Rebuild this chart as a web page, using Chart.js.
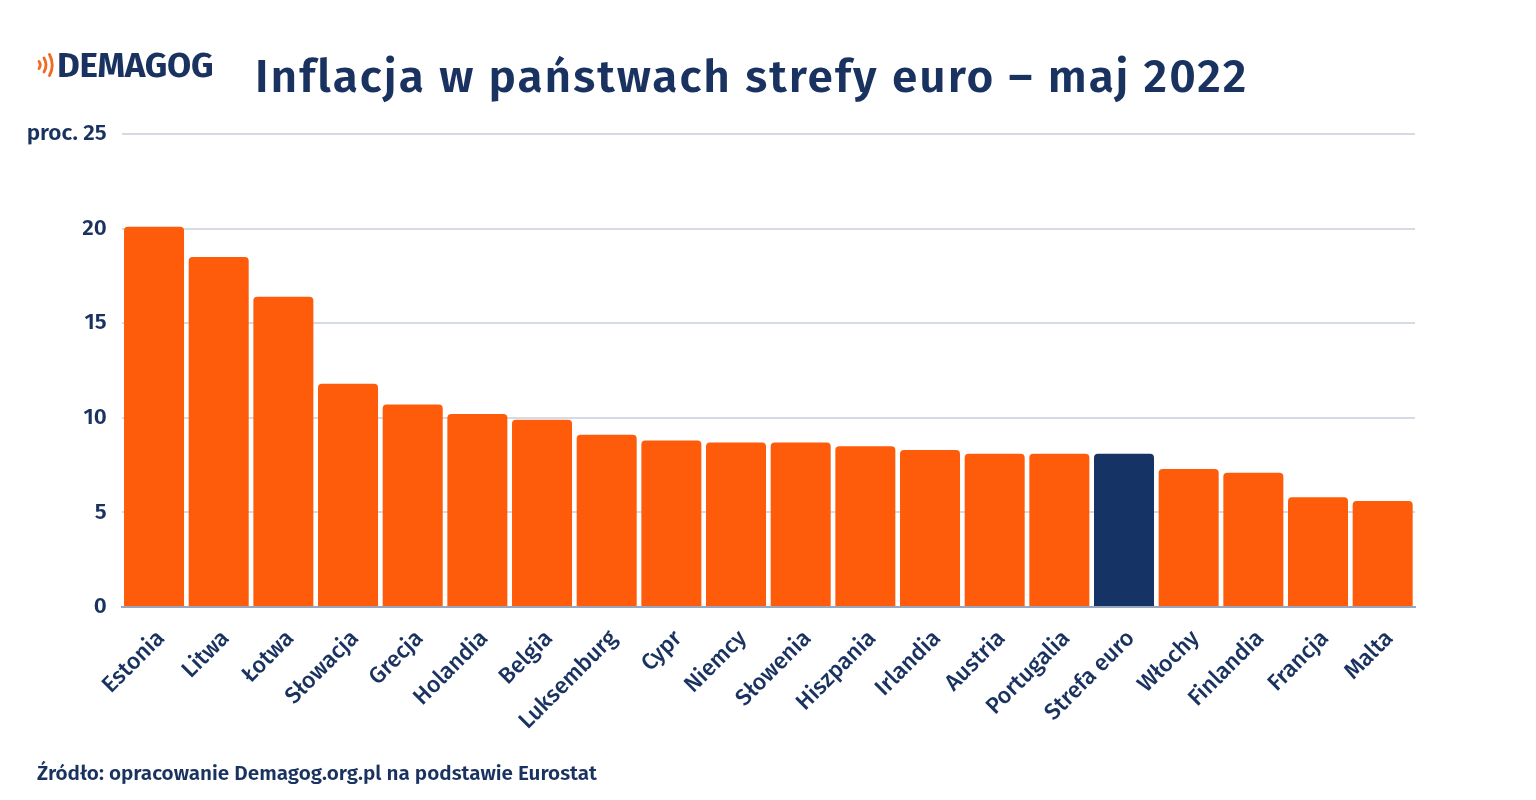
<!DOCTYPE html>
<html lang="pl">
<head>
<meta charset="utf-8">
<title>Inflacja w państwach strefy euro – maj 2022</title>
<script src="https://cdn.jsdelivr.net/npm/chart.js@4"></script>
<style>
  html, body { margin: 0; padding: 0; background: #fff; }
  body { width: 1536px; height: 800px; position: relative; overflow: hidden;
         font-family: "Fira Sans", "Open Sans", "Noto Sans", sans-serif; color: #19325f; }
  #wrap { position: absolute; left: 0; top: 0; width: 1536px; height: 800px; }
  .logo { position: absolute; left: 36px; top: 44px; display: flex; align-items: center; }
  .logo span { font-weight: 700; font-size: 35px; letter-spacing: -0.3px; color: #19325f; margin-left: 1px; }
  .title { position: absolute; left: 255px; top: 49px; font-size: 46px; font-weight: 600;
           letter-spacing: 2px; color: #19325f; white-space: nowrap; }
  .source { position: absolute; left: 37px; top: 761px; font-size: 20.7px; font-weight: 600;
            color: #19325f; white-space: nowrap; }
</style>
</head>
<body>
<div id="wrap"><canvas id="chart"></canvas></div>
<div class="logo">
  <svg width="20" height="26" viewBox="0 0 20 26">
    <g fill="none" stroke="#f26a21" stroke-width="2.8" stroke-linecap="round">
      <path d="M3 9.5 Q5.5 13 3 16.5"/>
      <path d="M8 6 Q12 13 8 20"/>
      <path d="M13.5 2.5 Q19 13 13.5 23.5"/>
    </g>
  </svg>
  <span>DEMAGOG</span>
</div>
<div class="title">Inflacja w państwach strefy euro – maj 2022</div>
<div class="source">Źródło: opracowanie Demagog.org.pl na podstawie Eurostat</div>
<script>
// kraje i inflacja HICP, maj 2022 (proc.)
const countries = ['Estonia', 'Litwa', 'Łotwa', 'Słowacja', 'Grecja', 'Holandia', 'Belgia',
    'Luksemburg', 'Cypr', 'Niemcy', 'Słowenia', 'Hiszpania', 'Irlandia', 'Austria',
    'Portugalia', 'Strefa euro', 'Włochy', 'Finlandia', 'Francja', 'Malta'];
const inflation = [20.1, 18.5, 16.4, 11.8, 10.7, 10.2, 9.9, 9.1, 8.8, 8.7, 8.7, 8.5, 8.3,
    8.1, 8.1, 8.1, 7.3, 7.1, 5.8, 5.6];
const yTicks = [0, 5, 10, 15, 20, 25];
const highlight = 'Strefa euro';

const ORANGE = '#fe5c0a';
const NAVY = '#163366';
const TEXT = '#19325f';
const FONT = '"Fira Sans", "Open Sans", "Noto Sans", sans-serif';

let ctx = document.getElementById('chart');
new Chart(ctx, {
    type: 'bar',
    data: {
        labels: countries,
        datasets: [{
            data: inflation,
            backgroundColor: countries.map(c => c === highlight ? NAVY : ORANGE),
            borderRadius: {topLeft: 4, topRight: 4},
            borderSkipped: 'bottom',
            barPercentage: 0.928,
            categoryPercentage: 1.0
        }]
    },
    options: {
        responsive: true,
        maintainAspectRatio: false,
        animation: false,
        layout: {padding: {left: 10, right: 121, top: 134, bottom: 0}},
        plugins: {legend: {display: false}, tooltip: {enabled: false}},
        scales: {
            x: {
                grid: {display: false},
                border: {color: '#9aa6bd', width: 2},
                ticks: {
                    color: TEXT,
                    font: {family: FONT, size: 23, weight: '500'},
                    minRotation: 45,
                    maxRotation: 45,
                    labelOffset: 7,
                    padding: 10
                },
                afterFit: (scale) => { scale.height = 193; }
            },
            y: {
                min: 0,
                max: 25,
                afterBuildTicks: (scale) => { scale.ticks = yTicks.map(v => ({value: v})); },
                grid: {color: '#d5dae4', lineWidth: 2, drawTicks: false},
                border: {display: false},
                ticks: {
                    color: TEXT,
                    font: {family: FONT, size: 22.5, weight: '600'},
                    padding: 15,
                    callback: (v) => v === 25 ? 'proc. 25' : String(v)
                },
                afterFit: (scale) => { scale.width = 111.7; }
            }
        }
    }
});
</script>
</body>
</html>
